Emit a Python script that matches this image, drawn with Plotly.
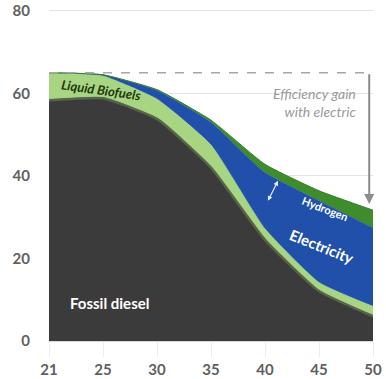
import plotly.graph_objects as go

# Road freight energy demand by carrier (stacked), years shown as two-digit labels
years = ["21", "25", "30", "35", "40", "45", "50"]
fossil_diesel = [58.3, 58.8, 53.8, 42.0, 24.5, 12.1, 6.0]
liquid_biofuels = [6.7, 5.4, 4.8, 5.5, 2.7, 2.1, 2.4]
electricity = [0.0, 0.3, 2.1, 5.5, 13.6, 19.8, 19.0]
hydrogen = [0.0, 0.0, 0.2, 0.5, 2.0, 2.4, 4.3]

y_ticks = [0, 20, 40, 60, 80]

totals = [a + b + c + d for a, b, c, d in zip(fossil_diesel, liquid_biofuels, electricity, hydrogen)]
xi = list(range(len(years)))

fig = go.Figure()
series = [
    ("Fossil diesel", fossil_diesel, "#3b3b3b", "#56654a", 2.5),
    ("Liquid Biofuels", liquid_biofuels, "#a8d582", "#a8d582", 0.5),
    ("Electricity", electricity, "#2050aa", "#2050aa", 0.5),
    ("Hydrogen", hydrogen, "#3f8c2c", "#3a7f28", 1.0),
]
for name, vals, fill, line, lw in series:
    fig.add_trace(go.Scatter(
        x=xi, y=vals, name=name, mode="lines", stackgroup="one",
        fillcolor=fill, line=dict(color=line, width=lw, shape="spline", smoothing=0.45),
        hoverinfo="skip", showlegend=False,
    ))

# Dashed reference line at the starting total, arrow down to the 2050 total
fig.add_shape(type="line", x0=0, x1=5.93, y0=totals[0], y1=totals[0],
              line=dict(color="#a6a6a6", width=1.5, dash="dash"))
fig.add_annotation(x=5.93, y=totals[-1] + 1.5, ax=5.93, ay=totals[0],
                   xref="x", yref="y", axref="x", ayref="y", text="",
                   showarrow=True, arrowhead=2, arrowsize=1, arrowwidth=2,
                   arrowcolor="#8c8c8c")

fig.add_annotation(x=5.72, y=57.8, xref="x", yref="y", xanchor="right",
                   text="<i>Efficiency gain<br>with electric</i>", showarrow=False,
                   align="right", font=dict(family="Lato", size=14, color="#9a9a9a"))

fig.add_annotation(x=0.98, y=60.9, xref="x", yref="y", text="<b><i>Liquid Biofuels</i></b>",
                   showarrow=False, textangle=8,
                   font=dict(family="Lato", size=13, color="#1d3a10"))

fig.add_annotation(x=0.35, y=9.3, xref="x", yref="y", xanchor="left",
                   text="<b>Fossil diesel</b>", showarrow=False,
                   font=dict(family="Lato", size=15, color="white"))

fig.add_annotation(x=5.11, y=32.1, xref="x", yref="y", text="<b>Hydrogen</b>",
                   showarrow=False, textangle=21,
                   font=dict(family="Lato", size=11, color="white"))

fig.add_annotation(x=5.04, y=22.9, xref="x", yref="y", text="<b>Electricity</b>",
                   showarrow=False, textangle=22,
                   font=dict(family="Lato", size=15, color="white"))

# Double-headed arrow marking the hydrogen band
fig.add_annotation(x=4.24, y=38.8, ax=4.04, ay=33.6, xref="x", yref="y",
                   axref="x", ayref="y", text="", showarrow=True,
                   arrowhead=2, startarrowhead=2, arrowside="end+start",
                   arrowsize=0.8, arrowwidth=1.2, arrowcolor="#e8efff")

fig.update_layout(
    width=386, height=379,
    margin=dict(l=49, r=13, t=1, b=36),
    paper_bgcolor="white", plot_bgcolor="white",
    font=dict(family="Lato", color="#606060"),
)
fig.update_xaxes(
    range=[0, len(years) - 1], tickvals=xi, ticktext=years,
    showgrid=False, zeroline=False, showline=True, linecolor="#d9d9d9",
    ticks="outside", ticklen=15, tickcolor="#ececec",
    tickfont=dict(family="Lato", size=15, color="#606060", weight="bold"),
)
fig.update_yaxes(
    range=[0, 81.4], tickvals=y_ticks, showgrid=True, gridcolor="#e3e3e3",
    zeroline=False, showline=False, ticks="", ticklabelstandoff=18,
    ticklabeloverflow="allow",
    tickfont=dict(family="Lato", size=15, color="#606060", weight="bold"),
)

fig.write_html("out.html")
